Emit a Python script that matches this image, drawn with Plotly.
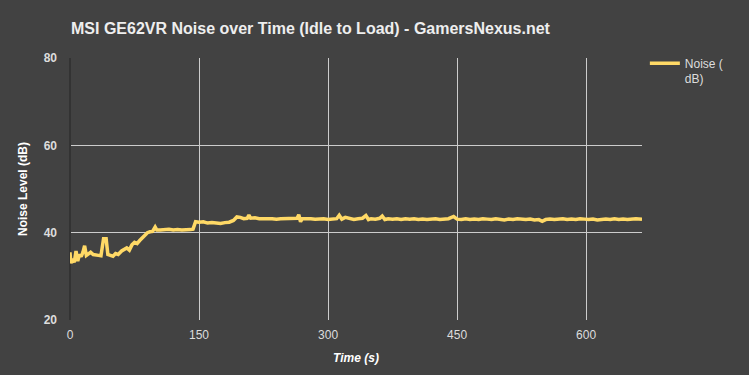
import plotly.graph_objects as go

time_s = [0, 1, 3, 5, 7, 9, 11, 13, 15, 17, 19, 21, 24, 27, 30, 33, 36, 39, 42, 44,
          47, 50, 53, 56, 60, 63, 66, 69, 72, 75, 78, 81, 84, 87, 90, 93, 96, 99, 101, 105,
          110, 115, 120, 125, 130, 135, 140, 143, 146, 150, 155, 160, 165, 170, 175, 180, 185, 190, 194, 198,
          202, 206, 208, 210, 215, 220, 225, 230, 235, 240, 245, 250, 255, 260, 264, 266, 268, 270, 275, 280,
          285, 290, 295, 300, 305, 310, 313, 316, 320, 325, 330, 335, 340, 344, 347, 350, 355, 360, 363, 366,
          370, 375, 380, 385, 390, 395, 400, 405, 410, 415, 420, 425, 430, 435, 440, 446, 450, 455, 460, 465,
          470, 475, 480, 485, 490, 495, 500, 505, 510, 515, 520, 525, 530, 535, 540, 545, 549, 553, 558, 563,
          568, 573, 578, 583, 588, 593, 598, 603, 608, 613, 618, 623, 628, 633, 638, 643, 648, 653, 658, 665]

noise_db = [35.5, 33.0, 34.0, 33.2, 35.8, 33.5, 35.0, 34.5, 35.5, 37.0, 34.8, 35.0, 35.5, 35.0, 34.8, 34.8, 34.7, 38.6, 38.6, 35.0,
            34.8, 34.6, 35.2, 35.0, 35.8, 36.2, 36.5, 36.0, 37.2, 37.8, 37.5, 38.2, 38.8, 39.5, 40.0, 40.2, 40.3, 41.3, 40.6, 40.6,
            40.7, 40.8, 40.6, 40.7, 40.6, 40.6, 40.7, 40.8, 42.5, 42.4, 42.5, 42.2, 42.3, 42.2, 42.1, 42.3, 42.4, 42.8, 43.6, 43.5,
            43.2, 43.3, 44.0, 43.3, 43.4, 43.2, 43.3, 43.2, 43.2, 43.1, 43.2, 43.2, 43.1, 43.2, 43.3, 44.1, 42.5, 43.2, 43.3, 43.2,
            43.1, 43.2, 43.2, 43.0, 43.1, 43.2, 44.0, 43.1, 43.5, 43.2, 43.0, 43.2, 43.3, 43.9, 43.0, 43.2, 43.1, 43.3, 43.8, 43.0,
            43.2, 43.1, 43.2, 43.0, 43.2, 43.1, 43.2, 43.0, 43.1, 43.0, 43.1, 43.2, 43.0, 43.1, 43.2, 43.7, 43.1, 43.0, 43.2, 43.0,
            43.1, 43.0, 43.2, 43.1, 43.0, 43.2, 43.1, 42.9, 43.1, 43.0, 43.2, 43.1, 43.0, 43.1, 42.9, 43.0, 42.6, 43.0, 43.1, 43.0,
            43.1, 43.2, 43.0, 43.1, 43.0, 43.2, 43.1, 43.0, 43.1, 42.9, 43.0, 43.1, 43.0, 43.2, 43.0, 43.1, 43.0, 43.1, 43.2, 43.1]

x_ticks = [0, 150, 300, 450, 600]
y_ticks = [20, 40, 60, 80]
y_tick_labels = ["<b>20</b>", "<b>40</b>", "<b>60</b>", "<b>80</b>"]

bg = "#424242"
fig = go.Figure()
fig.add_trace(go.Scatter(
    x=time_s, y=noise_db, mode="lines", name="Noise (<br>dB)",
    line=dict(color="#FFD966", width=3.5),
))

fig.update_layout(
    width=749, height=375,
    paper_bgcolor=bg, plot_bgcolor=bg,
    font=dict(family="Arial", size=12, color="#dddddd"),
    margin=dict(l=70, r=107, t=58, b=55),
    title=dict(text="<b>MSI GE62VR Noise over Time (Idle to Load) - GamersNexus.net</b>",
               x=71 / 749, xanchor="left", y=1 - 28 / 375, yanchor="middle",
               font=dict(family="Arial", size=16, color="#eeeeee")),
    showlegend=True,
    legend=dict(x=1.005, xanchor="left", y=1.035, yanchor="top", valign="top",
                font=dict(family="Arial", size=12, color="#dddddd"), bgcolor="rgba(0,0,0,0)",
                itemwidth=30),
    xaxis=dict(range=[0, 665], tickvals=x_ticks, ticktext=[str(t) for t in x_ticks],
               showgrid=True, gridcolor="#cccccc", gridwidth=1,
               zeroline=True, zerolinecolor="#333333", zerolinewidth=1.5,
               showline=False, ticks="", ticklabelstandoff=6,
               tickfont=dict(family="Arial", size=12, color="#dddddd"),
               title=dict(text="<b><i>Time (s)</i></b>", font=dict(family="Arial", size=12, color="#ffffff"), standoff=12)),
    yaxis=dict(range=[20, 80], tickvals=y_ticks, ticktext=y_tick_labels,
               showgrid=True, gridcolor="#cccccc", gridwidth=1,
               zeroline=False, showline=False, ticks="", ticklabelstandoff=12,
               tickfont=dict(family="Arial", size=12, color="#dddddd"),
               title=dict(text="<b>Noise Level (dB)</b>", font=dict(family="Arial", size=12, color="#ffffff"), standoff=13)),
)

fig.write_html("out.html")
